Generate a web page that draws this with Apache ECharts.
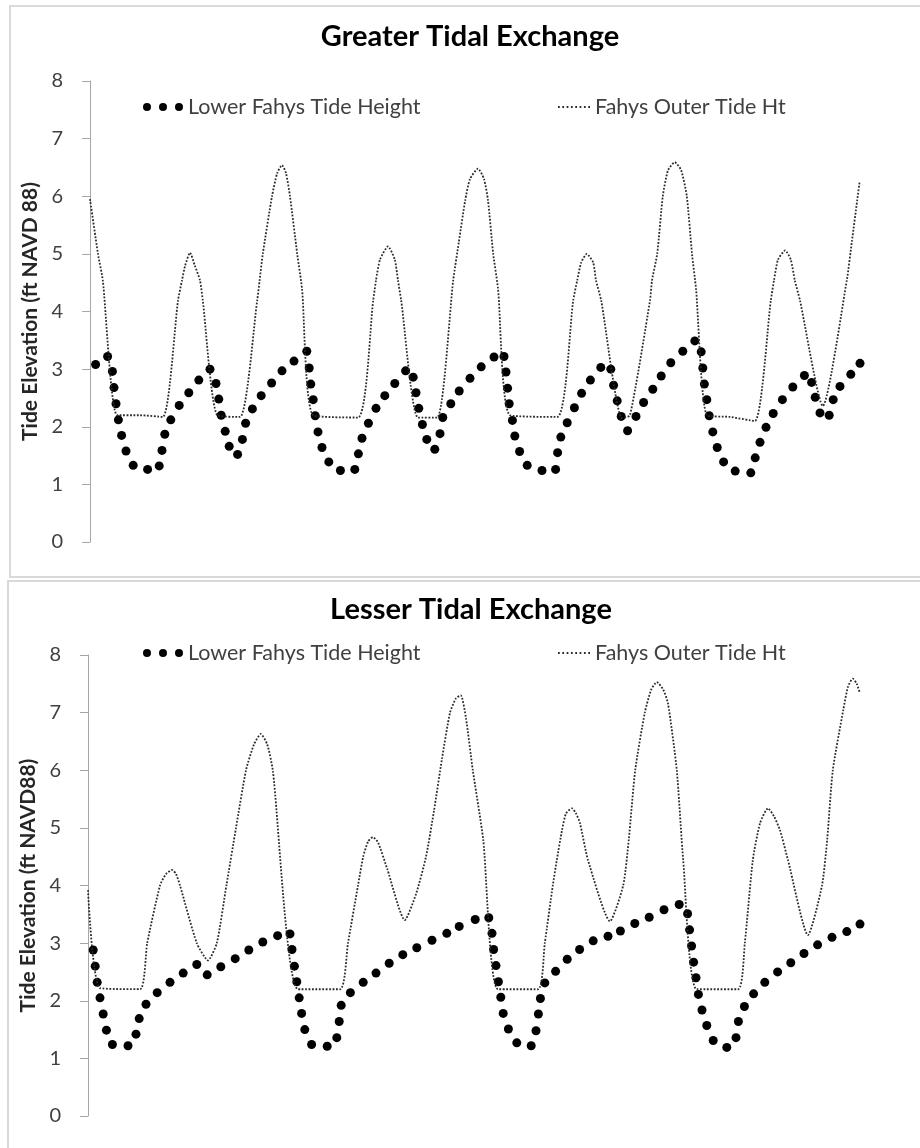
<!DOCTYPE html>
<html>
<head>
<meta charset="utf-8">
<script src="https://cdn.jsdelivr.net/npm/echarts@6.0.0/dist/echarts.min.js"></script>
<style>
  html, body { margin: 0; padding: 0; background: #ffffff; }
  #chart { width: 920px; height: 1148px; }
</style>
</head>
<body>
<div id="chart"></div>
<script>
// time in hours from the start of the window, tide in ft NAVD 88
const greaterOuter = [
  [0, 5.95], [1, 5.0], [1.6, 4.54], [3.4, 2.2], [6.25, 2.2], [9.1, 2.17],
  [11, 4.19], [11.5, 4.54], [11.9, 4.8], [12.5, 5.02], [13.1, 4.8], [13.75, 4.54], [14.1, 4.19], [15.9, 2.2],
  [18.75, 2.17], [20.9, 4.19], [21.2, 4.54], [21.6, 5.0], [22.75, 6.0], [23.4, 6.4], [24, 6.54],
  [24.5, 6.4], [25, 6.0], [25.9, 5.0], [26.5, 4.4], [27.9, 2.2],
  [33.5, 2.16], [35.4, 4.19], [35.75, 4.54], [36.25, 4.9], [37.25, 5.13], [38.1, 4.9], [38.5, 4.54], [38.9, 4.19], [41, 2.16],
  [43.4, 2.16], [45.4, 4.54], [46.1, 5.2], [46.9, 5.93], [47.5, 6.3], [48.5, 6.48], [49.25, 6.3], [49.75, 5.93],
  [50.4, 5.0], [51, 4.4], [52.5, 2.2],
  [58.4, 2.17], [60.4, 4.19], [60.9, 4.54], [61.4, 4.85], [62.1, 5.0], [62.9, 4.85], [63.25, 4.54], [63.9, 4.19], [66.5, 2.15],
  [67.5, 2.2], [70, 4.19], [70.25, 4.54], [70.9, 5.0], [71.6, 6.0], [72.25, 6.45], [73.1, 6.59], [73.9, 6.45],
  [74.6, 6.0], [75.25, 5.0], [75.75, 4.4], [77.1, 2.2],
  [80, 2.17], [83.1, 2.1], [85.1, 4.19], [85.5, 4.54], [86, 4.9], [86.9, 5.06], [87.6, 4.9], [88.1, 4.54], [88.75, 4.19],
  [91.6, 2.36], [94.6, 4.54], [95.25, 5.23], [95.9, 5.93], [96.2, 6.25]
];

const greaterLower = [
  [0.7, 3.08], [2.2, 3.22], [2.8, 2.96], [3.0, 2.68], [3.25, 2.40], [3.55, 2.12], [3.95, 1.85], [4.5, 1.58],
  [5.4, 1.33], [7.2, 1.26], [8.65, 1.32], [9.0, 1.59], [9.35, 1.87], [10.1, 2.12], [11.15, 2.37], [12.35, 2.59],
  [13.6, 2.81], [15.0, 3.0], [15.75, 2.75], [16.1, 2.48], [16.4, 2.2], [16.9, 1.92], [17.4, 1.66], [18.45, 1.52],
  [19.05, 1.78], [19.45, 2.06], [20.3, 2.31], [21.4, 2.54], [22.7, 2.76], [24.0, 2.97], [25.5, 3.14], [27.1, 3.31],
  [27.4, 3.02], [27.6, 2.74], [27.9, 2.47], [28.15, 2.19], [28.5, 1.91], [29.0, 1.64], [29.85, 1.39], [31.3, 1.24],
  [33.1, 1.26], [33.55, 1.53], [34.0, 1.80], [34.8, 2.06], [35.75, 2.32], [36.85, 2.54], [38.1, 2.75], [39.45, 2.97],
  [40.4, 2.86], [40.75, 2.59], [41.1, 2.32], [41.55, 2.04], [42.1, 1.78], [43.1, 1.61], [43.75, 1.88], [44.1, 2.16],
  [45.1, 2.40], [46.15, 2.62], [47.5, 2.84], [48.9, 3.04], [50.5, 3.21], [51.75, 3.22], [52.0, 2.95], [52.2, 2.67],
  [52.4, 2.40], [52.8, 2.11], [53.1, 1.84], [53.7, 1.57], [54.65, 1.33], [56.5, 1.24], [58.2, 1.26], [58.45, 1.55],
  [58.85, 1.82], [59.65, 2.07], [60.55, 2.33], [61.45, 2.58], [62.55, 2.81], [63.85, 3.03], [65.1, 3.0], [65.45, 2.72],
  [65.9, 2.45], [66.4, 2.18], [67.2, 1.93], [68.25, 2.18], [69.2, 2.42], [70.35, 2.65], [71.4, 2.88], [72.6, 3.11],
  [74.1, 3.31], [75.6, 3.49], [76.4, 3.30], [76.6, 3.02], [76.8, 2.74], [77.1, 2.47], [77.4, 2.19], [77.85, 1.91],
  [78.4, 1.64], [79.2, 1.39], [80.65, 1.23], [82.6, 1.20], [83.15, 1.46], [83.75, 1.73], [84.5, 1.99], [85.4, 2.23],
  [86.55, 2.47], [87.85, 2.69], [89.3, 2.89], [90.2, 2.77], [90.65, 2.51], [91.25, 2.24], [92.4, 2.20], [92.9, 2.47],
  [93.75, 2.70], [95.1, 2.91], [96.25, 3.10]
];

const lesserOuter = [
  [0, 3.92], [1.5, 2.22], [6.5, 2.2], [7.4, 3.0], [9, 4.0], [9.75, 4.2], [10.5, 4.27], [11, 4.2], [11.5, 4.0],
  [13.6, 3.0], [15, 2.7], [16.1, 3.0], [17.3, 4.0], [18.5, 5.0], [19.75, 6.0], [20.75, 6.45], [21.6, 6.63],
  [22.4, 6.45], [23.1, 6.0], [26.25, 2.2],
  [31.5, 2.2], [32.5, 3.0], [33.75, 4.0], [34.4, 4.5], [35, 4.76], [35.6, 4.84], [36.25, 4.75], [37.4, 4.29],
  [39.6, 3.4], [41, 3.85], [42.25, 4.5], [43.25, 5.3], [44.25, 6.2], [45.25, 7.0], [46, 7.25], [46.6, 7.3], [47.25, 6.9],
  [48.1, 6.0], [49.4, 4.8], [51.25, 2.2],
  [56.25, 2.2], [57.1, 3.0], [58.1, 4.0], [58.6, 4.44], [59.25, 4.96], [59.75, 5.25], [60.5, 5.34], [61, 5.25],
  [61.5, 5.08], [62.5, 4.44], [65.25, 3.38], [66.9, 4.0], [67.6, 4.8], [68.4, 6.0], [69.6, 7.0], [70.4, 7.4], [71.1, 7.53],
  [71.9, 7.4], [72.5, 7.16], [73.6, 6.0], [74.4, 4.44], [76.1, 2.2],
  [81.25, 2.2], [82.1, 3.0], [83.1, 4.44], [84, 5.08], [85, 5.34], [85.75, 5.2], [86.5, 4.96], [87.5, 4.44],
  [90, 3.14], [91.75, 4.0], [92.4, 4.8], [93.1, 6.0], [94.4, 7.04], [95, 7.45], [95.6, 7.59], [96.1, 7.5], [96.5, 7.33]
];

const lesserLower = [
  [0.65, 2.88], [0.9, 2.60], [1.15, 2.32], [1.5, 2.05], [1.9, 1.77], [2.3, 1.49], [3.05, 1.24], [5.0, 1.22],
  [6.0, 1.42], [6.4, 1.69], [7.25, 1.94], [8.65, 2.14], [10.25, 2.32], [11.9, 2.48], [13.6, 2.63], [14.9, 2.45],
  [16.6, 2.59], [18.4, 2.73], [20.1, 2.88], [21.85, 3.02], [23.7, 3.13], [25.25, 3.16], [25.5, 2.89], [25.8, 2.60],
  [26.1, 2.33], [26.4, 2.05], [26.7, 1.78], [27.1, 1.50], [27.95, 1.24], [29.9, 1.21], [31.1, 1.36], [31.4, 1.64],
  [31.65, 1.92], [32.8, 2.14], [34.4, 2.32], [36.0, 2.48], [37.65, 2.65], [39.35, 2.80], [41.1, 2.92], [43.0, 3.05],
  [44.85, 3.17], [46.4, 3.29], [48.4, 3.41], [50.1, 3.44], [50.5, 3.17], [50.7, 2.89], [51.0, 2.61], [51.3, 2.33],
  [51.6, 2.06], [51.9, 1.78], [52.55, 1.51], [53.6, 1.27], [55.4, 1.22], [56.0, 1.48], [56.3, 1.77], [56.55, 2.04],
  [57.1, 2.31], [58.45, 2.51], [59.9, 2.72], [61.45, 2.89], [63.15, 3.04], [65.0, 3.12], [66.55, 3.21], [68.35, 3.34],
  [70.15, 3.45], [72.0, 3.58], [73.9, 3.67], [74.95, 3.51], [75.2, 3.23], [75.45, 2.95], [75.7, 2.67], [76.0, 2.40],
  [76.3, 2.11], [76.75, 1.84], [77.35, 1.57], [78.15, 1.31], [79.85, 1.19], [81.0, 1.36], [81.3, 1.64], [82.05, 1.90],
  [83.2, 2.12], [84.6, 2.32], [86.2, 2.50], [87.85, 2.66], [89.5, 2.82], [91.2, 2.97], [93.0, 3.10], [94.85, 3.20],
  [96.5, 3.33]
];

const yTicks = [0, 1, 2, 3, 4, 5, 6, 7, 8];
const titles = ['Greater Tidal Exchange', 'Lesser Tidal Exchange'];
const yNames = ['Tide Elevation (ft NAVD 88)', 'Tide Elevation (ft NAVD88)'];
const names = ['Lower Fahys Tide Height', 'Fahys Outer Tide Ht'];

const FONT = 'Lato, "Open Sans", sans-serif';
const dotsIcon = 'path://M0,4a4,4 0 1,0 8,0a4,4 0 1,0 -8,0M16,4a4,4 0 1,0 8,0a4,4 0 1,0 -8,0M32,4a4,4 0 1,0 8,0a4,4 0 1,0 -8,0';
let dashIcon = 'path://';
for (let i = 0; i < 8; i++) {
  dashIcon += 'M' + (i * 4.4) + ',0h1.8v1.8h-1.8z';
}

const chart = echarts.init(document.getElementById('chart'));

function yAxisOf(gridIndex, name) {
  return {
    gridIndex: gridIndex,
    type: 'value',
    min: yTicks[0],
    max: yTicks[yTicks.length - 1],
    interval: 1,
    name: name,
    nameLocation: 'middle',
    nameRotate: 90,
    nameGap: 46,
    nameTextStyle: { fontFamily: FONT, fontSize: 21, fontWeight: 'bold', color: '#262626' },
    axisLine: { show: true, lineStyle: { color: '#a6a6a6', width: 1 } },
    axisTick: { show: true, inside: false, length: 8, lineStyle: { color: '#a6a6a6' } },
    axisLabel: { margin: 27, fontFamily: FONT, fontSize: 20, color: '#404040' },
    splitLine: { show: false }
  };
}

function xAxisOf(gridIndex, max) {
  return { gridIndex: gridIndex, type: 'value', min: 0, max: max, show: false };
}

function legendOf(name, left, top, icon, w, h) {
  return {
    data: [{ name: name, icon: icon }],
    left: left,
    top: top,
    padding: 0,
    itemWidth: w,
    itemHeight: h,
    itemGap: 0,
    selectedMode: false,
    textStyle: { fontFamily: FONT, fontSize: 21.5, color: '#404040', lineHeight: 24 }
  };
}

function outerSeries(idx, data) {
  return {
    name: names[1], type: 'line', xAxisIndex: idx, yAxisIndex: idx,
    data: data, symbol: 'none', smooth: 0.2,
    itemStyle: { color: '#2b2b2b' },
    lineStyle: { color: '#2b2b2b', width: 1.8, type: [1.8, 1.6] }
  };
}

function lowerSeries(idx, data) {
  return {
    name: names[0], type: 'scatter', xAxisIndex: idx, yAxisIndex: idx,
    data: data, symbol: 'circle', symbolSize: 9,
    itemStyle: { color: '#000000', opacity: 1 }
  };
}

const option = {
  animation: false,
  backgroundColor: '#ffffff',
  graphic: [
    // 两个图的外框
    { type: 'rect', shape: { x: 10, y: 6, width: 930, height: 571 }, style: { fill: 'none', stroke: '#d9d9d9', lineWidth: 2 } },
    { type: 'rect', shape: { x: 8, y: 581, width: 930, height: 600 }, style: { fill: 'none', stroke: '#d9d9d9', lineWidth: 2 } }
  ],
  title: [
    { text: titles[0], left: 470, top: 20, textAlign: 'center', padding: 0,
      textStyle: { fontFamily: FONT, fontSize: 29, fontWeight: 'bold', color: '#000', lineHeight: 34 } },
    { text: titles[1], left: 471, top: 593, textAlign: 'center', padding: 0,
      textStyle: { fontFamily: FONT, fontSize: 29, fontWeight: 'bold', color: '#000', lineHeight: 34 } }
  ],
  legend: [
    legendOf(names[0], 143, 95, dotsIcon, 40, 8),
    legendOf(names[1], 558, 95, dashIcon, 32, 1.8),
    legendOf(names[0], 143, 641, dotsIcon, 40, 8),
    legendOf(names[1], 558, 641, dashIcon, 32, 1.8)
  ],
  grid: [
    { left: 90, top: 81, width: 771, height: 461 },
    { left: 88, top: 655, width: 772, height: 461 }
  ],
  xAxis: [xAxisOf(0, 96.375), xAxisOf(1, 96.5)],
  yAxis: [yAxisOf(0, yNames[0]), yAxisOf(1, yNames[1])],
  series: [
    outerSeries(0, greaterOuter),
    lowerSeries(0, greaterLower),
    outerSeries(1, lesserOuter),
    lowerSeries(1, lesserLower)
  ]
};

chart.setOption(option);
</script>
</body>
</html>
